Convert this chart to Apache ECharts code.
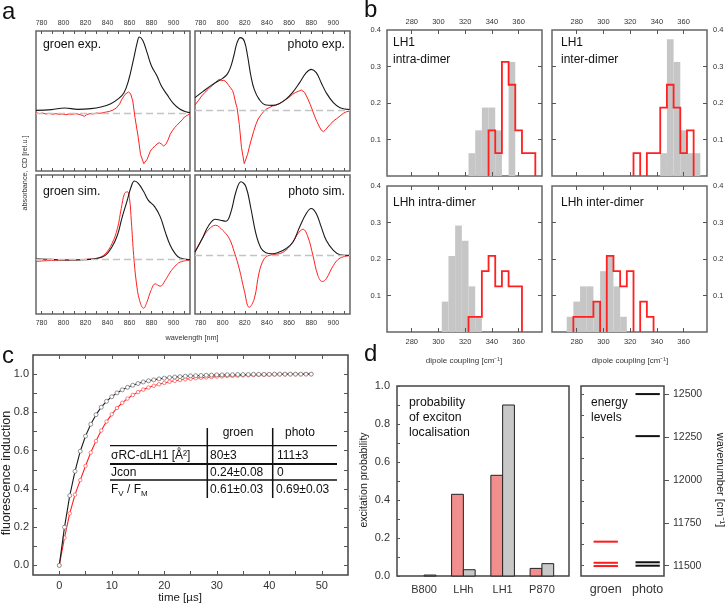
<!DOCTYPE html>
<html>
<head>
<meta charset="utf-8">
<script src="https://cdn.jsdelivr.net/npm/echarts@6.0.0/dist/echarts.min.js"></script>
<style>
  html, body { margin: 0; padding: 0; background: #fff; }
  #chart { width: 727px; height: 606px; }
</style>
</head>
<body>
<div id="chart"></div>
<script>
// ---- panel a: absorbance (black) and CD (red) spectra, [wavelength nm, rel.u.]
const groenExpAbs = [[775,0.09],[789,0.11],[801,0.16],[813,0.12],[825,0.14],[834,0.19],[843,0.29],[850,0.44],[855,0.62],[859,0.97],[864,1.67],[867,2.12],[869,2.29],[872,2.19],[876,1.82],[880,1.42],[885,1.12],[889,0.82],[894,0.57],[900,0.29],[906,0.12],[912,0.04],[915,0.02]];
const groenExpCD = [[775,0.02],[778,-0.01],[781,0.01],[784,-0.02],[787,0.00],[790,-0.03],[793,-0.01],[796,-0.03],[799,-0.02],[802,-0.04],[805,-0.02],[808,-0.03],[811,-0.01],[814,-0.03],[817,-0.06],[819,-0.09],[821,-0.04],[824,-0.01],[827,-0.02],[830,0.01],[833,0.00],[836,0.02],[839,0.04],[842,0.06],[845,0.10],[848,0.16],[851,0.28],[853,0.42],[856,0.57],[859,0.64],[861,0.59],[863,0.37],[865,-0.13],[868,-0.73],[870,-1.23],[873,-1.51],[876,-1.38],[879,-1.13],[881,-1.05],[883,-0.98],[885,-0.92],[887,-0.88],[889,-0.92],[891,-0.98],[893,-0.93],[895,-0.80],[897,-0.63],[899,-0.52],[901,-0.43],[903,-0.36],[906,-0.26],[908,-0.19],[910,-0.11],[913,-0.05],[915,-0.01]];
const photoExpAbs = [[775,0.39],[782,0.57],[791,0.79],[800,0.97],[804,1.09],[807,1.29],[810,1.64],[813,2.04],[816,2.19],[819.5,2.09],[822.5,1.64],[825.5,1.04],[828.5,0.64],[833,0.34],[839,0.17],[845,0.16],[851,0.21],[857,0.34],[863,0.54],[869.5,0.84],[875.5,1.14],[880,1.24],[884.5,1.14],[889,0.84],[893.5,0.54],[900,0.24],[906,0.09],[915,0.03]];
const photoExpCD = [[775,0.17],[778,0.30],[781,0.44],[784,0.55],[787,0.64],[790,0.74],[793,0.82],[795,0.90],[797,0.94],[799,0.90],[801,0.91],[803,0.87],[805,0.78],[807,0.69],[809,0.60],[810,0.49],[812,0.20],[813,0.09],[815,-0.41],[817,-1.11],[819.5,-1.59],[821,-1.45],[822.5,-1.31],[824,-1.10],[825.5,-0.91],[828,-0.62],[830,-0.41],[832,-0.25],[835,-0.11],[837,-0.03],[839,0.04],[842,0.09],[845,0.14],[848,0.16],[851,0.21],[854,0.27],[857,0.34],[860,0.40],[863,0.49],[866,0.55],[869,0.59],[871,0.62],[872.5,0.66],[874,0.55],[875.5,0.49],[877,0.35],[879,0.19],[881,0.02],[883,-0.16],[885,-0.32],[887,-0.46],[889,-0.58],[891,-0.63],[893,-0.57],[895,-0.49],[897,-0.42],[900,-0.31],[903,-0.24],[906,-0.16],[909,-0.08],[912,-0.03],[915,-0.01]];
const groenSimAbs = [[775,0.03],[789,0.01],[804,-0.01],[819,0.00],[831,0.04],[838,0.13],[844,0.38],[849,0.73],[853,1.23],[858,1.78],[861.5,2.18],[864.5,2.35],[868,2.28],[873,2.03],[877,1.78],[883,1.58],[888,1.28],[892.5,0.83],[897,0.43],[901.5,0.18],[906,0.05],[915,0.00]];
const groenSimCD = [[775,-0.05],[789,-0.02],[804,-0.01],[819,0.01],[831,0.05],[838,0.18],[844,0.48],[849,0.93],[852.5,1.53],[855.5,1.98],[858,2.03],[860,1.83],[861.7,1.13],[863.8,0.13],[866.2,-0.67],[869.2,-1.22],[872.8,-1.45],[875.8,-1.27],[879.5,-0.92],[883.4,-0.72],[887.9,-0.79],[892.4,-0.62],[897,-0.37],[901.5,-0.19],[906,-0.07],[915,-0.01]];
const photoSimAbs = [[775,0.10],[781.5,0.50],[787.5,0.90],[793.5,1.08],[798,1.05],[803,1.02],[807.5,1.30],[812,1.90],[816.5,2.20],[821,2.05],[825.5,1.40],[830,0.65],[834.5,0.22],[839,0.08],[845,0.05],[851,0.10],[857,0.20],[863.5,0.40],[869.5,0.85],[875.5,1.25],[880,1.40],[884.5,1.25],[889,0.85],[893.5,0.45],[900,0.15],[906,0.02],[915,0.00]];
const photoSimCD = [[775,0.10],[781.5,0.50],[787.5,0.78],[793.5,0.90],[800,0.75],[806,0.50],[810.5,0.10],[815,-0.40],[819.5,-1.05],[824,-1.55],[828.5,-1.30],[833,-0.50],[837.5,-0.10],[842,0.00],[851,0.05],[857,0.15],[863.5,0.40],[868,0.65],[872.5,0.78],[877,0.55],[881.5,0.00],[886,-0.60],[890,-0.78],[893.5,-0.70],[900,-0.30],[906,-0.08],[915,-0.01]];
const wlTicks = [780,790,800,810,820,830,840,850,860,870,880,890,900,910];
const wlLabels = [780,800,820,840,860,880,900];

// ---- panel b: dipole coupling histograms, [bin centre cm-1, fraction]; gray = photo, red = groen
const lh1IntraPhoto = [[325,0.0625],[330,0.125],[335,0.1875],[340,0.1875],[345,0.125],[355,0.3125]];
const lh1IntraGroen = [[340,0.125],[345,0.0625],[350,0.3125],[355,0.25],[360,0.125],[365,0.0625],[370,0.0625]];
const lh1InterPhoto = [[345,0.0625],[350,0.375],[355,0.3125],[360,0.125],[365,0.0625],[370,0.0625]];
const lh1InterGroen = [[325,0.0625],[335,0.0625],[340,0.0625],[345,0.1875],[350,0.25],[355,0.1875],[360,0.0625],[365,0.125]];
const lhhIntraPhoto = [[305,0.0833],[310,0.2083],[315,0.2917],[320,0.25],[325,0.125],[330,0.0417]];
const lhhIntraGroen = [[325,0.0417],[330,0.0417],[335,0.1667],[340,0.2083],[345,0.125],[350,0.1667],[355,0.125],[360,0.125]];
const lhhInterPhoto = [[275,0.0417],[280,0.0833],[285,0.125],[290,0.125],[295,0.0833],[300,0.1667],[305,0.2083],[310,0.125],[315,0.0417]];
const lhhInterGroen = [[280,0.0417],[285,0.0417],[290,0.0417],[295,0.0833],[305,0.2083],[310,0.1667],[315,0.125],[320,0.1667],[330,0.0833],[335,0.0417]];
const binWidth = 5;
const dipTicks = [280,300,320,340,360];
const fracTicks = [0.1,0.2,0.3];
const fracLabels = [0.1,0.2,0.3,0.4];

// ---- panel c: fluorescence induction
const timeUs = [0,1,2,3,4,5,6,7,8,9,10,11,12,13,14,15,16,17,18,19,20,21,22,23,24,25,26,27,28,29,30,31,32,33,34,35,36,37,38,39,40,41,42,43,44,45,46,47,48];
const fiPhoto = [0,0.200,0.365,0.492,0.597,0.676,0.738,0.788,0.827,0.858,0.882,0.902,0.918,0.931,0.942,0.951,0.959,0.965,0.970,0.975,0.979,0.982,0.985,0.987,0.989,0.991,0.992,0.993,0.994,0.995,0.996,0.996,0.997,0.997,0.998,0.998,0.998,0.999,0.999,0.999,0.999,1.000,1.000,1.000,1.000,1.000,1.000,1.000,1.000];
const fiGroen = [0,0.145,0.272,0.370,0.446,0.520,0.590,0.650,0.705,0.752,0.790,0.823,0.850,0.872,0.891,0.906,0.919,0.930,0.939,0.947,0.954,0.960,0.965,0.969,0.973,0.976,0.979,0.981,0.983,0.985,0.987,0.988,0.990,0.991,0.992,0.993,0.994,0.995,0.996,0.996,0.997,0.997,0.998,0.998,0.999,0.999,0.999,1.000,1.000];
const timeTicks = [0,5,10,15,20,25,30,35,40,45,50];
const timeLabels = [0,10,20,30,40,50];
const fiTicks = [0,0.1,0.2,0.3,0.4,0.5,0.6,0.7,0.8,0.9,1.0];
const fiLabels = [0,0.2,0.4,0.6,0.8,1.0];

// ---- panel d: excitation probability and energy levels
const probCategories = ['B800','LHh','LH1','P870'];
const probGroen = [0, 0.43, 0.53, 0.04];
const probPhoto = [0.005, 0.033, 0.90, 0.065];
const excTicks = [0,0.1,0.2,0.3,0.4,0.5,0.6,0.7,0.8,0.9,1.0];
const excLabels = [0,0.2,0.4,0.6,0.8,1.0];
const levelCategories = ['groen','photo'];
const groenLevels = [11640, 11517, 11498];
const photoLevels = [12500, 12255, 11520, 11500];
const wnLabels = [11500,11750,12000,12250,12500];
const wnMinor = [11500,11625,11750,11875,12000,12125,12250,12375,12500];

const FONT = '"Liberation Sans", Arial, sans-serif';
const RED = '#ff2020';
const BLACK = '#1a1a1a';

const grids = [], xAxes = [], yAxes = [], series = [];

function addGrid(box, color) {
  grids.push(Object.assign({ show: true, borderColor: color || '#666', borderWidth: 1.5, backgroundColor: 'transparent' }, box));
  return grids.length - 1;
}

function axis(o) {
  return {
    type: 'value', gridIndex: o.grid, position: o.pos, min: o.min, max: o.max,
    axisLine: { show: false, onZero: false }, splitLine: { show: false },
    axisTick: { show: !!o.ticks, inside: o.inside !== false, length: o.tickLen || 3,
      customValues: o.ticks, lineStyle: { color: '#555', width: 1 } },
    axisLabel: { show: !!o.labels, customValues: o.labels, fontSize: o.fs, margin: o.margin,
      color: '#333', fontFamily: FONT, formatter: o.fmt || (v => String(v)) },
    z: 5
  };
}
const fmt1 = v => Number(v).toFixed(1);

// ---------- panel a
const aPanels = [
  { box: { left: 36, top: 31, width: 154, height: 140 }, y: [-1.73, 2.47], abs: groenExpAbs, cd: groenExpCD, row: 0, smoothCD: false },
  { box: { left: 195, top: 31, width: 155, height: 140 }, y: [-1.81, 2.39], abs: photoExpAbs, cd: photoExpCD, row: 0, smoothCD: false },
  { box: { left: 36, top: 175, width: 154, height: 139 }, y: [-1.62, 2.53], abs: groenSimAbs, cd: groenSimCD, row: 1, smoothCD: true },
  { box: { left: 195, top: 175, width: 155, height: 139 }, y: [-1.75, 2.40], abs: photoSimAbs, cd: photoSimCD, row: 1, smoothCD: true }
];
aPanels.forEach(p => {
  const gi = addGrid(p.box);
  const xb = xAxes.push(axis({ grid: gi, pos: 'bottom', min: 775, max: 915, ticks: wlTicks,
    labels: p.row === 1 ? wlLabels : null, fs: 7, margin: 6 })) - 1;
  xAxes.push(axis({ grid: gi, pos: 'top', min: 775, max: 915, ticks: wlTicks,
    labels: p.row === 0 ? wlLabels : null, fs: 7, margin: 4 }));
  const yi = yAxes.push({ type: 'value', gridIndex: gi, min: p.y[0], max: p.y[1], show: false,
    axisLine: { onZero: false } }) - 1;
  series.push({
    type: 'line', xAxisIndex: xb, yAxisIndex: yi, data: p.cd, symbol: 'none', smooth: p.smoothCD ? 0.4 : false,
    lineStyle: { color: RED, width: 1 }, animation: false, z: 3,
    markLine: { silent: true, symbol: 'none', label: { show: false }, animation: false,
      lineStyle: { color: '#c4c4c4', type: [7, 4], width: 1.3 }, data: [{ yAxis: 0 }] }
  });
  series.push({
    type: 'line', xAxisIndex: xb, yAxisIndex: yi, data: p.abs, symbol: 'none', smooth: 0.4,
    lineStyle: { color: BLACK, width: 1.1 }, animation: false, z: 4
  });
});

// ---------- panel b
function outlinePaths(bins) {
  const paths = [];
  let cur = null;
  bins.forEach((b, i) => {
    const l = b[0] - binWidth / 2, r = b[0] + binWidth / 2;
    if (!cur) cur = [[l, 0]];
    cur.push([l, b[1]], [r, b[1]]);
    const next = bins[i + 1];
    if (!next || Math.abs(next[0] - b[0] - binWidth) > 1e-6) {
      cur.push([r, 0]);
      paths.push(cur);
      cur = null;
    }
  });
  return paths;
}
const bPanels = [
  { box: { left: 387, top: 30, width: 155, height: 146 }, gray: lh1IntraPhoto, red: lh1IntraGroen, row: 0, col: 0 },
  { box: { left: 552, top: 30, width: 155, height: 146 }, gray: lh1InterPhoto, red: lh1InterGroen, row: 0, col: 1 },
  { box: { left: 387, top: 186, width: 155, height: 146 }, gray: lhhIntraPhoto, red: lhhIntraGroen, row: 1, col: 0 },
  { box: { left: 552, top: 186, width: 155, height: 146 }, gray: lhhInterPhoto, red: lhhInterGroen, row: 1, col: 1 }
];
bPanels.forEach(p => {
  const gi = addGrid(p.box);
  const xb = xAxes.push(axis({ grid: gi, pos: 'bottom', min: 261.5, max: 377.5, ticks: dipTicks,
    labels: p.row === 1 ? dipTicks : null, fs: 7.5, margin: 6, tickLen: 4 })) - 1;
  xAxes.push(axis({ grid: gi, pos: 'top', min: 261.5, max: 377.5, ticks: dipTicks,
    labels: p.row === 0 ? dipTicks : null, fs: 7.5, margin: 4, tickLen: 4 }));
  const yl = yAxes.push(axis({ grid: gi, pos: 'left', min: 0, max: 0.4, ticks: fracTicks,
    labels: p.col === 0 ? fracLabels : null, fs: 7.5, margin: 6, fmt: fmt1, tickLen: 4 })) - 1;
  yAxes.push(axis({ grid: gi, pos: 'right', min: 0, max: 0.4, ticks: fracTicks,
    labels: p.col === 1 ? fracLabels : null, fs: 7.5, margin: 6, fmt: fmt1, tickLen: 4 }));
  series.push({
    type: 'custom', xAxisIndex: xb, yAxisIndex: yl, data: p.gray, animation: false, z: 2,
    renderItem: (params, api) => {
      const c = api.value(0), h = api.value(1);
      const p0 = api.coord([c - binWidth / 2, 0]);
      const p1 = api.coord([c + binWidth / 2, h]);
      return { type: 'rect', shape: { x: p0[0], y: p1[1], width: p1[0] - p0[0], height: p0[1] - p1[1] },
        style: { fill: '#c6c6c6' } };
    }
  });
  const paths = outlinePaths(p.red);
  series.push({
    type: 'custom', xAxisIndex: xb, yAxisIndex: yl, data: [p.red[0]], animation: false, z: 3,
    renderItem: (params, api) => ({
      type: 'group',
      children: paths.map(pts => ({
        type: 'polyline', shape: { points: pts.map(q => api.coord(q)) },
        style: { stroke: RED, lineWidth: 1.8, fill: null }
      }))
    })
  });
});

// ---------- panel c
{
  const gi = addGrid({ left: 33, top: 355, width: 315, height: 220 }, '#444');
  const xb = xAxes.push(axis({ grid: gi, pos: 'bottom', min: -5, max: 55, ticks: timeTicks, labels: timeLabels, fs: 11, margin: 5, tickLen: 4 })) - 1;
  xAxes.push(axis({ grid: gi, pos: 'top', min: -5, max: 55, ticks: timeTicks, tickLen: 4 }));
  const yl = yAxes.push(axis({ grid: gi, pos: 'left', min: -0.05, max: 1.1, ticks: fiTicks, labels: fiLabels, fs: 11, margin: 4, fmt: fmt1, tickLen: 4 })) - 1;
  yAxes.push(axis({ grid: gi, pos: 'right', min: -0.05, max: 1.1, ticks: fiTicks, tickLen: 4 }));
  series.push({
    type: 'line', xAxisIndex: xb, yAxisIndex: yl, data: timeUs.map((t, i) => [t, fiGroen[i]]),
    symbol: 'circle', symbolSize: 3.5, lineStyle: { color: RED, width: 1.1 },
    itemStyle: { color: '#fff', borderColor: '#ff6060', borderWidth: 0.8 }, animation: false, z: 3
  });
  series.push({
    type: 'line', xAxisIndex: xb, yAxisIndex: yl, data: timeUs.map((t, i) => [t, fiPhoto[i]]),
    symbol: 'circle', symbolSize: 4, lineStyle: { color: BLACK, width: 1.1 },
    itemStyle: { color: '#fff', borderColor: '#777', borderWidth: 0.8 }, animation: false, z: 4
  });
}

// ---------- panel d: bars
{
  const gi = addGrid({ left: 397, top: 386, width: 172, height: 190 }, '#444');
  const xb = xAxes.push(axis({ grid: gi, pos: 'bottom', min: 0.31, max: 4.69, labels: [1, 2, 3, 4],
    fs: 11, margin: 8, fmt: v => probCategories[Math.round(v) - 1] })) - 1;
  const yl = yAxes.push(axis({ grid: gi, pos: 'left', min: 0, max: 1.0, ticks: excTicks, labels: excLabels,
    fs: 11, margin: 7, fmt: fmt1, tickLen: 3 })) - 1;
  const barItem = (side, fill) => (params, api) => {
    const c = api.value(0), h = api.value(1);
    if (!(h > 0)) return null;
    const p0 = api.coord([side < 0 ? c - 0.3 : c, 0]);
    const p1 = api.coord([side < 0 ? c : c + 0.3, h]);
    return { type: 'rect', shape: { x: p0[0], y: p1[1], width: p1[0] - p0[0], height: p0[1] - p1[1] },
      style: { fill: fill, stroke: '#222', lineWidth: 1 } };
  };
  series.push({ type: 'custom', xAxisIndex: xb, yAxisIndex: yl, animation: false,
    data: probGroen.map((v, i) => [i + 1, v]), renderItem: barItem(-1, '#f28e8e') });
  series.push({ type: 'custom', xAxisIndex: xb, yAxisIndex: yl, animation: false,
    data: probPhoto.map((v, i) => [i + 1, v]), renderItem: barItem(1, '#c8c8c8') });
}

// ---------- panel d: energy levels
{
  const gi = addGrid({ left: 581, top: 386, width: 83, height: 190 }, '#444');
  const xb = xAxes.push(axis({ grid: gi, pos: 'bottom', min: 0.41, max: 2.39, labels: [1, 2],
    fs: 12.5, margin: 7, fmt: v => levelCategories[Math.round(v) - 1] })) - 1;
  const yr = yAxes.push(axis({ grid: gi, pos: 'right', min: 11440, max: 12547, ticks: wnLabels, labels: wnLabels,
    fs: 10.5, margin: 9, inside: false, tickLen: 5 })) - 1;
  yAxes.push(axis({ grid: gi, pos: 'left', min: 11440, max: 12547, ticks: wnMinor, tickLen: 3 }));
  const levelItem = color => (params, api) => {
    const c = api.value(0), e = api.value(1);
    const p0 = api.coord([c - 0.29, e]);
    const p1 = api.coord([c + 0.29, e]);
    return { type: 'line', shape: { x1: p0[0], y1: p0[1], x2: p1[0], y2: p1[1] },
      style: { stroke: color, lineWidth: 2 } };
  };
  series.push({ type: 'custom', xAxisIndex: xb, yAxisIndex: yr, animation: false,
    data: groenLevels.map(e => [1, e]), renderItem: levelItem('#ff1a1a') });
  series.push({ type: 'custom', xAxisIndex: xb, yAxisIndex: yr, animation: false,
    data: photoLevels.map(e => [2, e]), renderItem: levelItem('#111') });
}

// ---------- texts and table
function txt(text, x, y, size, opts) {
  opts = opts || {};
  return {
    type: 'text', x: x, y: y, rotation: opts.rot || 0, silent: true, z: 10,
    style: { text: text, fontSize: size, fontFamily: FONT, fill: opts.color || '#111',
      align: opts.align || 'left', verticalAlign: 'middle', rich: opts.rich }
  };
}
function hline(x1, x2, y, w) {
  return { type: 'line', silent: true, z: 10, shape: { x1: x1, y1: y, x2: x2, y2: y }, style: { stroke: '#111', lineWidth: w } };
}
function vline(x, y1, y2, w) {
  return { type: 'line', silent: true, z: 10, shape: { x1: x, y1: y1, x2: x, y2: y2 }, style: { stroke: '#111', lineWidth: w } };
}
const sub = { s: { fontSize: 8, fontFamily: FONT, fill: '#111', verticalAlign: 'bottom', lineHeight: 16 } };
const graphic = [
  txt('a', 2, 12, 24), txt('b', 364, 10, 24), txt('c', 2, 356, 24), txt('d', 364, 354, 24),
  txt('groen exp.', 43, 45, 12.3), txt('photo exp.', 345, 45, 12.3, { align: 'right' }),
  txt('groen sim.', 43, 192, 12.3), txt('photo sim.', 345, 192, 12.3, { align: 'right' }),
  txt('absorbance, CD [rel.u.]', 25, 173, 7.3, { rot: Math.PI / 2, align: 'center', color: '#333' }),
  txt('wavelength [nm]', 192, 338, 7.3, { align: 'center', color: '#333' }),
  txt('LH1', 393, 43, 12), txt('intra-dimer', 393, 60, 12),
  txt('LH1', 561, 43, 12), txt('inter-dimer', 561, 60, 12),
  txt('LHh intra-dimer', 393, 203, 12), txt('LHh inter-dimer', 561, 203, 12),
  txt('dipole coupling [cm⁻¹]', 464, 361, 8, { align: 'center', color: '#333' }),
  txt('dipole coupling [cm⁻¹]', 630, 361, 8, { align: 'center', color: '#333' }),
  txt('fluorescence induction', 7, 473, 12.5, { rot: Math.PI / 2, align: 'center', color: '#222' }),
  txt('time [µs]', 180, 598, 11.5, { align: 'center', color: '#222' }),
  // table
  txt('groen', 238, 433, 12, { align: 'center' }), txt('photo', 300, 433, 12, { align: 'center' }),
  txt('σRC-dLH1 [Å²]', 111, 456, 12), txt('80±3', 210, 456, 12), txt('111±3', 277, 456, 12),
  txt('Jcon', 111, 473, 12), txt('0.24±0.08', 210, 473, 12), txt('0', 277, 473, 12),
  txt('F{s|V} / F{s|M}', 111, 490, 12, { rich: sub }), txt('0.61±0.03', 210, 490, 12), txt('0.69±0.03', 276, 490, 12),
  hline(110, 337, 445.7, 1.3), hline(110, 337, 464, 2), hline(110, 337, 480, 1.5),
  vline(207.3, 428, 498, 1.5), vline(272.7, 428, 498, 1.5),
  // panel d
  txt('excitation probability', 364, 480, 10.5, { rot: Math.PI / 2, align: 'center', color: '#222' }),
  txt('probability', 409, 403, 12.3), txt('of exciton', 409, 418, 12.3), txt('localisation', 409, 433, 12.3),
  txt('energy', 591, 403, 12), txt('levels', 591, 418, 12),
  txt('wavenumber [cm⁻¹]', 720, 480, 11, { rot: -Math.PI / 2, align: 'center', color: '#222' })
];

const chart = echarts.init(document.getElementById('chart'), null, { renderer: 'canvas' });
chart.setOption({
  animation: false,
  backgroundColor: '#fff',
  textStyle: { fontFamily: FONT },
  grid: grids,
  xAxis: xAxes,
  yAxis: yAxes,
  series: series,
  graphic: graphic
});
</script>
</body>
</html>
